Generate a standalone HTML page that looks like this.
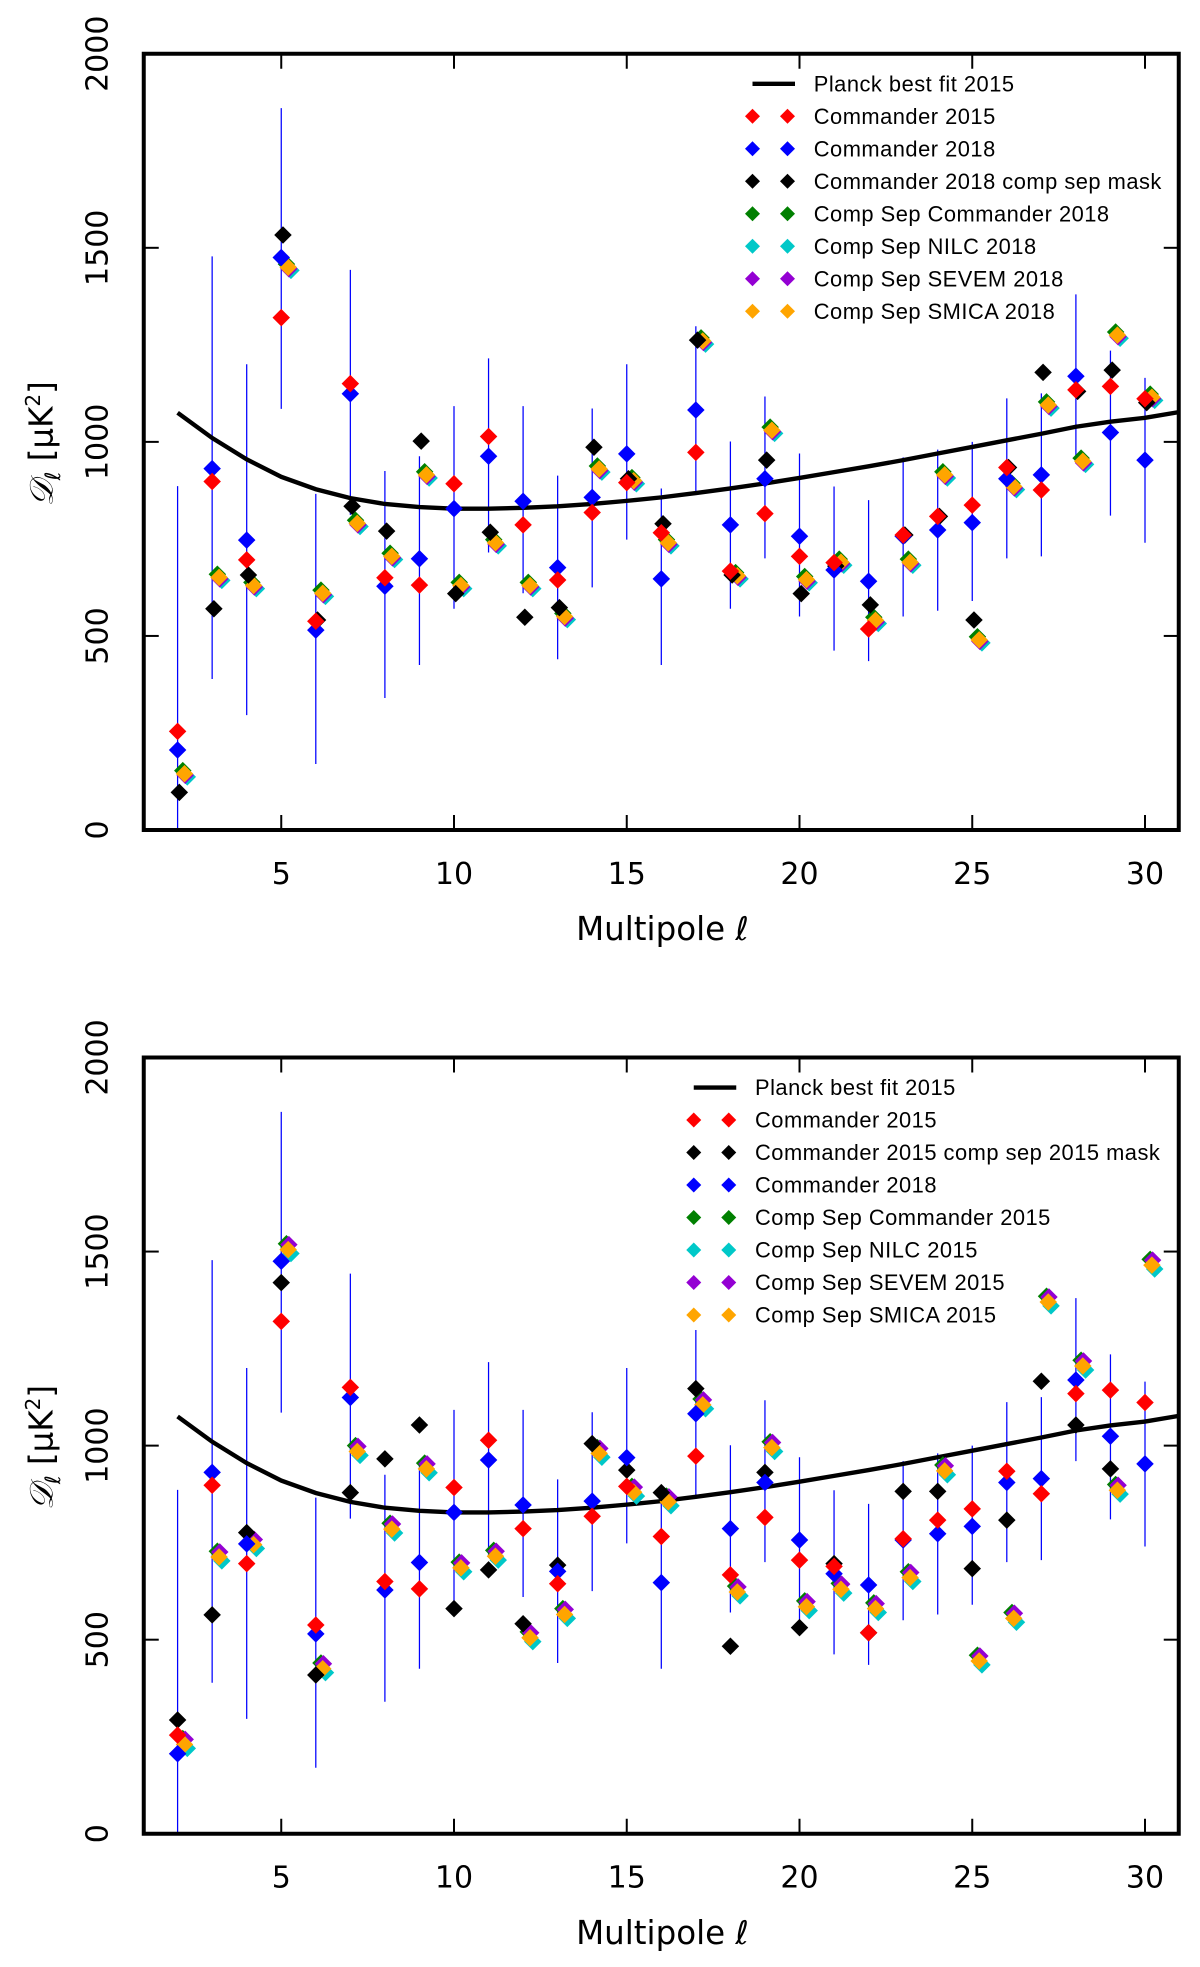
<!DOCTYPE html>
<html><head><meta charset="utf-8"><style>
html,body{margin:0;padding:0;background:#fff;}
svg{display:block;font-family:"DejaVu Sans","Liberation Sans",sans-serif;}
</style></head><body>
<svg id="fig" width="1200" height="1967" viewBox="0 0 960 1573.6" xmlns="http://www.w3.org/2000/svg"></svg>
<script>
const ells=[2,3,4,5,6,7,8,9,10,11,12,13,14,15,16,17,18,19,20,21,22,23,24,25,26,27,28,29,30];
const fitL=[2,3,4,5,6,7,8,9,10,11,12,13,14,15,16,17,18,19,20,21,22,23,24,25,26,27,28,29,30,31];
const fitV=[1075,1010,955,910,878,855,840,832,828,828,830,834,840,848,857,868,880,893,907,922,937,953,970,987,1004,1021,1039,1052,1062,1077];
const cmd15=[254,898,696,1320,538,1150,650,631,892,1014,786,644,818,895,766,973,667,815,705,689,518,760,808,837,934,876,1134,1143,1111];
const cmd18=[206,931,747,1475,515,1124,628,699,828,963,847,676,857,969,647,1082,786,905,757,670,641,757,773,792,905,915,1169,1024,953];
const errLo=[0,389,296,1085,170,812,340,425,570,715,610,440,625,748,425,870,570,700,550,462,435,550,565,590,700,705,960,810,740];
const errHi=[886,1478,1200,1860,866,1443,925,963,1092,1215,1092,913,1086,1200,880,1298,1001,1117,970,885,850,960,980,1000,1112,1125,1380,1235,1165];
const blk18=[97,570,657,1533,541,834,770,1002,609,767,548,573,986,905,789,1262,657,953,609,680,580,760,808,541,934,1179,1130,1185,1101];
const cs18=[145,651,630,1450,610,790,705,915,630,740,630,550,930,900,740,1260,655,1030,645,690,540,690,915,490,885,1095,950,1275,1115];
const blk15=[293,564,776,1420,409,879,966,1053,580,680,541,692,1005,937,879,1147,483,931,531,696,518,882,882,683,808,1166,1053,940,null];
const cs15=[235,718,750,1510,430,990,790,945,690,720,510,570,985,885,860,1110,628,1000,590,635,585,665,940,450,560,1375,1210,890,1470];
const ns='http://www.w3.org/2000/svg';
const svg=document.getElementById('fig');
function el(t,a,p){const e=document.createElementNS(ns,t);for(const k in a)e.setAttribute(k,a[k]);(p||svg).appendChild(e);return e;}
function panel(top,name,series,legend,legX){
  const X0=115,X1=943,Y0=top,Y1=top+621;
  const x=l=>225+(l-5)*27.64, y=v=>Y1-v*0.3105;
  const g=el('g',{});
  
  
  [5,10,15,20,25,30].forEach(t=>{
    const tk=el('line',{x1:x(t),x2:x(t),y1:Y1,y2:Y1-12,stroke:'#000','stroke-width':1.6},g);
    
    const tl=el('text',{x:x(t),y:Y1+43,'font-size':24,'text-anchor':'middle'},g);tl.textContent=t;
    
  });
  [0,500,1000,1500,2000].forEach(t=>{
    el('line',{x1:X0,x2:X0+12,y1:y(t),y2:y(t),stroke:'#000','stroke-width':1.6},g);
    el('line',{x1:X1,x2:X1-12,y1:y(t),y2:y(t),stroke:'#000','stroke-width':1.6},g);
    const tl=el('text',{x:0,y:0,'font-size':24,'text-anchor':'middle',transform:`translate(86,${y(t)}) rotate(-90)`},g);tl.textContent=t;
    
  });
  [5,10,15,20,25,30].forEach(t=>el('line',{x1:x(t),x2:x(t),y1:Y0,y2:Y0+12,stroke:'#000','stroke-width':1.6},g));
  ells.forEach((l,i)=>{const e=el('line',{x1:x(l),x2:x(l),y1:y(errLo[i]),y2:y(errHi[i]),stroke:'#0000ff','stroke-width':1},g);
    });
  const pl=el('polyline',{points:fitL.map((l,i)=>x(l)+','+y(fitV[i])).join(' '),fill:'none',stroke:'#000','stroke-width':3.5},g);
  
  const clip=el('clipPath',{id:'c'+top},g);el('rect',{x:X0,y:Y0,width:X1-X0,height:Y1-Y0},clip);
  const pg=el('g',{'clip-path':`url(#c${top})`},g);
  series.forEach(s=>{s.vals.forEach((v,i)=>{if(v==null)return;
    const cx=x(ells[i]+s.dx),cy=y(v+s.dv),r=7;
    const d=el('polygon',{points:`${cx},${cy-r} ${cx+r},${cy} ${cx},${cy+r} ${cx-r},${cy}`,fill:s.c},pg);
    });});
  const fr=el('rect',{x:X0,y:Y0,width:X1-X0,height:Y1-Y0,fill:'none',stroke:'#000','stroke-width':3.2},g);
  
  const xt=el('text',{x:530,y:Y1+88,'font-size':26,'text-anchor':'middle'},g);xt.textContent='Multipole ℓ';
  
  const yt=el('text',{x:0,y:0,'font-size':26,'text-anchor':'middle',transform:`translate(42,${Y0+312}) rotate(-90)`},g);
  yt.innerHTML='<tspan font-style="italic" font-family="Liberation Serif,serif">𝒟</tspan><tspan font-size="17" dy="6">ℓ</tspan><tspan dy="-6"> [μK</tspan><tspan font-size="16" dy="-10">2</tspan><tspan dy="10">]</tspan>';
  
  const lg=el('g',{},g);
  legend.forEach((it,k)=>{const ly=Y0+24+k*26;
    const eg=el('g',{},lg);
    if(it.line)el('line',{x1:legX,x2:legX+34,y1:ly,y2:ly,stroke:'#000','stroke-width':3.5},eg);
    else [legX,legX+28].forEach(cx=>el('polygon',{points:`${cx},${ly-6} ${cx+6},${ly} ${cx},${ly+6} ${cx-6},${ly}`,fill:it.c},eg));
    const t=el('text',{x:legX+49,y:ly+6,'font-size':17.5,'font-family':'Liberation Sans, sans-serif','letter-spacing':0.4},eg);t.textContent=it.t;});
}
panel(43,'top-panel',[
 {id:'cs-commander-2018',vals:cs18,c:'#008000',dx:0.15,dv:8},
 {id:'cs-nilc-2018',vals:cs18,c:'#00c8c8',dx:0.28,dv:-8},
 {id:'cs-sevem-2018',vals:cs18,c:'#9400d3',dx:0.22,dv:-4},
 {id:'cs-smica-2018',vals:cs18,c:'#ffa500',dx:0.2,dv:0},
 {id:'commander-2018-mask',vals:blk18,c:'#000',dx:0.05,dv:0},
 {id:'commander-2018',vals:cmd18,c:'#0000ff',dx:0,dv:0},
 {id:'commander-2015',vals:cmd15,c:'#ff0000',dx:0,dv:0}],
 [{line:1,t:'Planck best fit 2015'},{c:'#ff0000',t:'Commander 2015'},{c:'#0000ff',t:'Commander 2018'},{c:'#000',t:'Commander 2018 comp sep mask'},
  {c:'#008000',t:'Comp Sep Commander 2018'},{c:'#00c8c8',t:'Comp Sep NILC 2018'},{c:'#9400d3',t:'Comp Sep SEVEM 2018'},{c:'#ffa500',t:'Comp Sep SMICA 2018'}],602);
panel(846,'bottom-panel',[
 {id:'cs-commander-2015',vals:cs15,c:'#008000',dx:0.15,dv:10},
 {id:'cs-nilc-2015',vals:cs15,c:'#00c8c8',dx:0.28,dv:-15},
 {id:'cs-sevem-2015',vals:cs15,c:'#9400d3',dx:0.22,dv:8},
 {id:'cs-smica-2015',vals:cs15,c:'#ffa500',dx:0.2,dv:-5},
 {id:'commander-2015-mask',vals:blk15,c:'#000',dx:0,dv:0},
 {id:'commander-2018',vals:cmd18,c:'#0000ff',dx:0,dv:0},
 {id:'commander-2015',vals:cmd15,c:'#ff0000',dx:0,dv:0}],
 [{line:1,t:'Planck best fit 2015'},{c:'#ff0000',t:'Commander 2015'},{c:'#000',t:'Commander 2015 comp sep 2015 mask'},{c:'#0000ff',t:'Commander 2018'},
  {c:'#008000',t:'Comp Sep Commander 2015'},{c:'#00c8c8',t:'Comp Sep NILC 2015'},{c:'#9400d3',t:'Comp Sep SEVEM 2015'},{c:'#ffa500',t:'Comp Sep SMICA 2015'}],555);
</script>
</body></html>
